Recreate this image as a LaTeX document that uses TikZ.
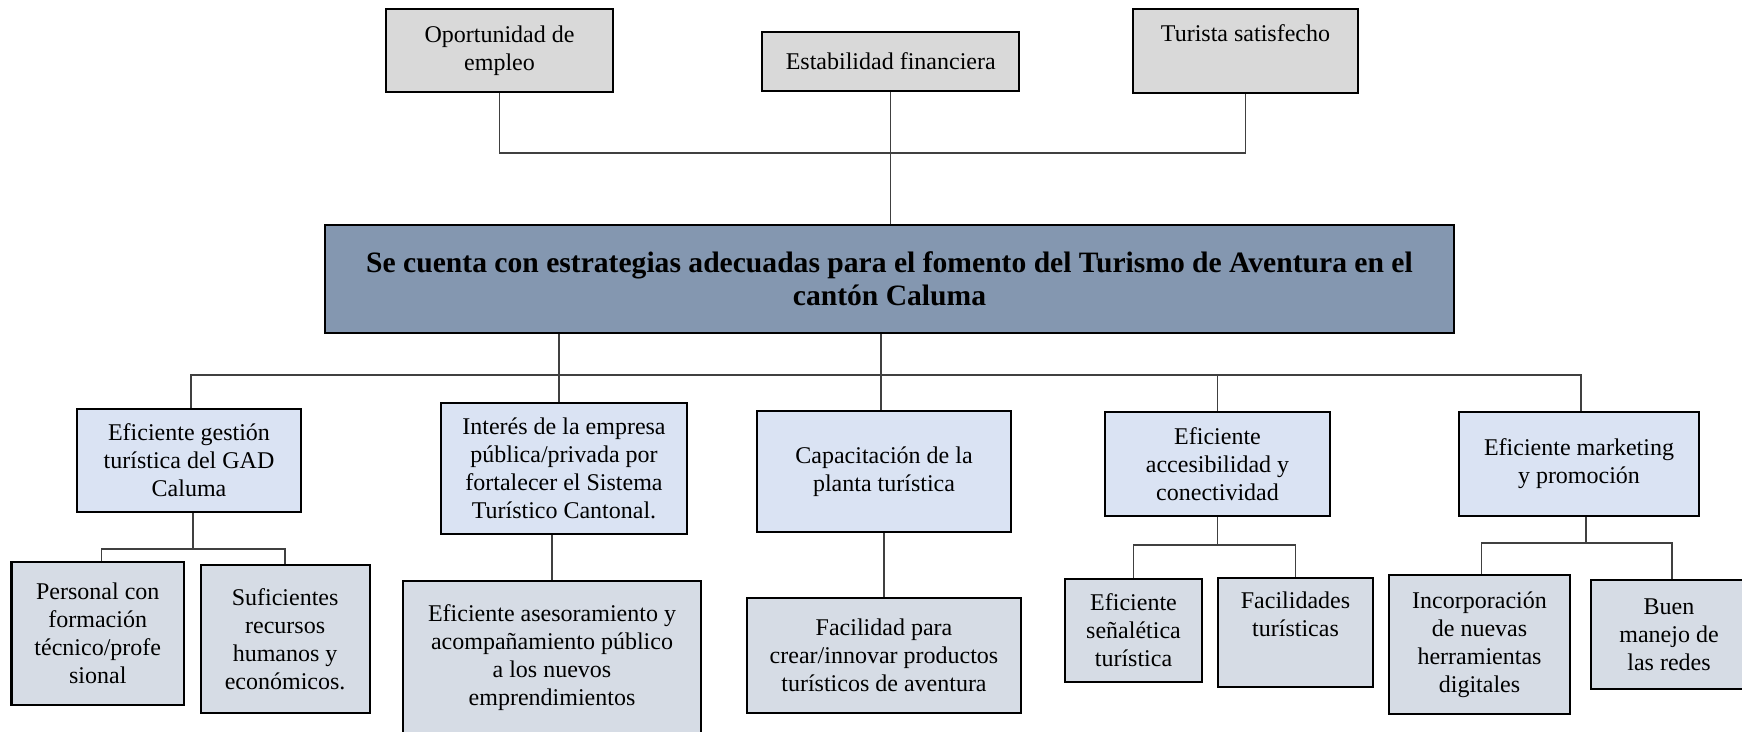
\documentclass[tikz,border=0pt]{standalone}
\usepackage{fontspec}
\setmainfont{Liberation Serif}
\definecolor{topgray}{HTML}{D9D9D9}
\definecolor{mainblue}{HTML}{8497B0}
\definecolor{lvtwo}{HTML}{DAE3F3}
\definecolor{lvthree}{HTML}{D6DCE5}
\definecolor{connc}{HTML}{404040}
\begin{document}
\begin{tikzpicture}[x=1pt,y=-1pt,
  box/.style={draw=black,line width=2.2pt,rectangle,inner sep=0pt,align=center,
    font=\fontsize{24}{28}\selectfont},
  topbox/.style={box,fill=topgray},
  lvtwobox/.style={box,fill=lvtwo},
  lvthreebox/.style={box,fill=lvthree},
  conn/.style={draw=connc,line width=1.3pt}]
\useasboundingbox (0,0) rectangle (1742,731);
\clip (0,0) rectangle (1742,731);

% top level
\node[topbox,minimum width=227pt,minimum height=83pt] (ops) at (499.5,50.5) {Oportunidad de\\empleo};
\node[topbox,minimum width=257pt,minimum height=59pt] (est) at (890.75,61.5) {Estabilidad financiera};
\node[topbox,minimum width=225pt,minimum height=84pt] (tur) at (1245.5,51) {Turista satisfecho\\\strut};

% main
\node[box,fill=mainblue,minimum width=1129pt,minimum height=108pt,
  font=\fontsize{29.6}{33}\selectfont\bfseries] (main) at (889.5,279)
  {Se cuenta con estrategias adecuadas para el fomento del Turismo de Aventura en el\\cantón Caluma};

% level 2
\node[lvtwobox,minimum width=224pt,minimum height=103pt] (gest) at (189,460.5) {Eficiente gestión\\turística del GAD\\Caluma};
\node[lvtwobox,minimum width=246pt,minimum height=131pt] (inter) at (564,468.5) {Interés de la empresa\\pública/privada por\\fortalecer el Sistema\\Turístico Cantonal.};
\node[lvtwobox,minimum width=254pt,minimum height=121pt] (cap) at (884,471.5) {Capacitación de la\\planta turística};
\node[lvtwobox,minimum width=225pt,minimum height=104pt] (acc) at (1217.5,464) {Eficiente\\accesibilidad y\\conectividad};
\node[lvtwobox,minimum width=240pt,minimum height=104pt] (mark) at (1579,464) {Eficiente marketing\\y promoción};

% level 3
\node[lvthreebox,minimum width=172.5pt,minimum height=143pt] (pers) at (97.75,633.5) {Personal con\\formación\\técnico/profe\\sional};
\node[lvthreebox,minimum width=169pt,minimum height=148pt] (suf) at (285.1,639) {Suficientes\\recursos\\humanos y\\económicos.};
\node[lvthreebox,minimum width=298pt,minimum height=154pt] (ases) at (552,658) {Eficiente asesoramiento y\\acompañamiento público\\a los nuevos\\emprendimientos};
\node[lvthreebox,minimum width=274pt,minimum height=115pt] (fac) at (884,655.5) {Facilidad para\\crear/innovar productos\\turísticos de aventura};
\node[lvthreebox,minimum width=137pt,minimum height=103pt] (sen) at (1133.5,630.5) {Eficiente\\señalética\\turística};
\node[lvthreebox,minimum width=155pt,minimum height=109pt] (facs) at (1295.5,632.5) {Facilidades\\turísticas\\\strut};
\node[lvthreebox,minimum width=181pt,minimum height=139pt] (inc) at (1479.5,644.5) {Incorporación\\de nuevas\\herramientas\\digitales};
\node[lvthreebox,minimum width=156pt,minimum height=109pt] (buen) at (1669,634.5) {Buen\\manejo de\\las redes};

% bus coordinates
\coordinate (tb) at (0,153);
\coordinate (bb) at (0,375);
\coordinate (gb) at (0,549);
\coordinate (ab) at (0,545);
\coordinate (mb) at (0,543);

% top connectors
\draw[conn] (ops.south) -- (ops.south |- tb) -- (tur.south |- tb) -- (tur.south);
\draw[conn] (est.south) -- (est.south |- main.north);

% main to level 2
\draw[conn] ([xshift=2pt]gest.north) -- ([xshift=2pt]gest.north |- bb) -- ([xshift=2pt]mark.north |- bb) -- ([xshift=2pt]mark.north);
\draw[conn] ([xshift=-5pt]inter.north |- main.south) -- ([xshift=-5pt]inter.north);
\draw[conn] ([xshift=-3pt]cap.north |- main.south) -- ([xshift=-3pt]cap.north);
\draw[conn] (acc.north |- bb) -- (acc.north);

% level 2 to level 3
\draw[conn] ([xshift=4pt]gest.south) -- ([xshift=4pt]gest.south |- gb);
\draw[conn] ([xshift=4pt]pers.north) -- ([xshift=4pt]pers.north |- gb) -- (suf.north |- gb) -- (suf.north);
\draw[conn] (inter.south -| ases.north) -- (ases.north);
\draw[conn] (cap.south) -- (fac.north);
\draw[conn] (acc.south) -- (acc.south |- ab);
\draw[conn] (sen.north) -- (sen.north |- ab) -- (facs.north |- ab) -- (facs.north);
\draw[conn] ([xshift=7pt]mark.south) -- ([xshift=7pt]mark.south |- mb);
\draw[conn] ([xshift=2pt]inc.north) -- ([xshift=2pt]inc.north |- mb) -- ([xshift=3pt]buen.north |- mb) -- ([xshift=3pt]buen.north);
\end{tikzpicture}
\end{document}
